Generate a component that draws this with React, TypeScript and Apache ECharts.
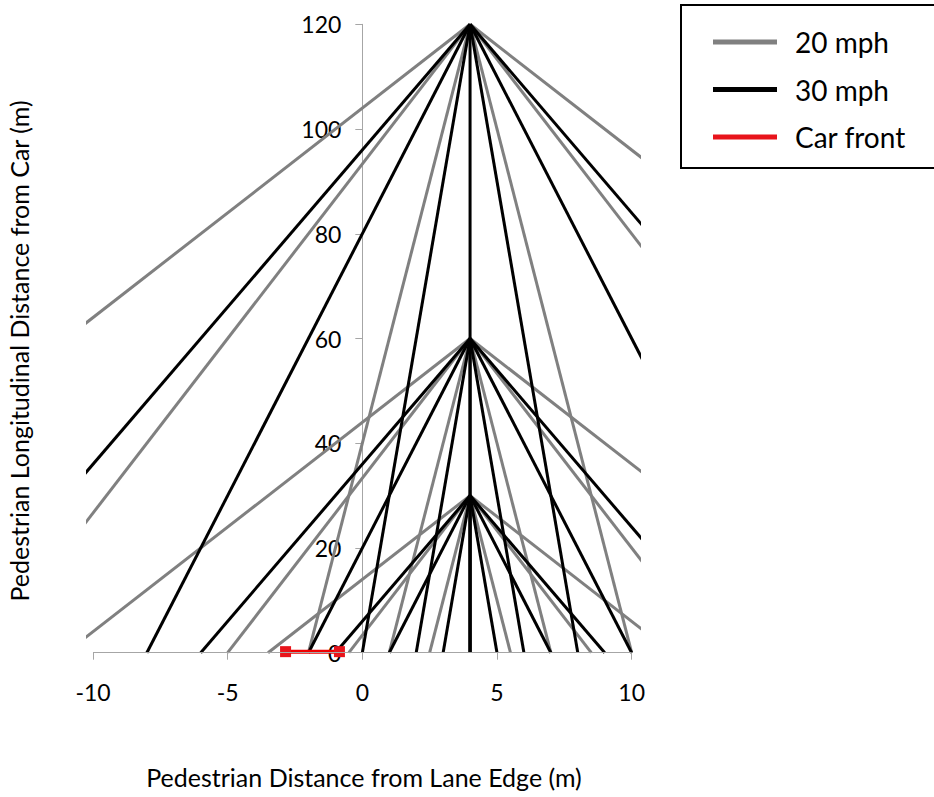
import React, { useEffect, useRef } from "react";
import * as echarts from "echarts";

// ---- data ----
const apexX = 4; // pedestrian lateral start position (m)
const startDistances = [120, 60, 30]; // pedestrian longitudinal start (m)

// x position (m) where each 20 mph trajectory reaches the car front line (y = 0)
const mph20EndsAt120 = [-26, -14, -2, 10, 22, 34];
const mph20EndsAt60 = [-11, -5, 1, 7, 13, 19];
const mph20EndsAt30 = [-3.5, -0.5, 2.5, 5.5, 8.5, 11.5];

// x position (m) where each 30 mph trajectory reaches the car front line (y = 0)
const mph30EndsAt120 = [-16, -8, 0, 4, 8, 16, 24];
const mph30EndsAt60 = [-6, -2, 2, 4, 6, 10, 14];
const mph30EndsAt30 = [-1, 1, 3, 4, 5, 7, 9];

const carFrontX = [-2.85, -0.85];
const carFrontY = [0.2, 0.2];

const xTickValues = [-10, -5, 0, 5, 10];
const legendNames = ["20 mph", "30 mph", "Car front"];

const X_MIN = -10.2;
const X_MAX = 10.25;

const GRAY = "#808080";
const BLACK = "#000000";
const RED = "#f00000";
const AXIS = "#a6a6a6";
const FONT = "Lato";

const GRID_LEFT = 87.6;
const GRID_RIGHT = 295.6;
const WIDTH = 934;

export default function App() {
  const ref = useRef<HTMLDivElement>(null);

  useEffect(() => {
    if (!ref.current) return;
    const chart = echarts.init(ref.current, null, { renderer: "svg" });

    const spokes = (name: string, color: string, y0: number, ends: number[], z: number) =>
      ends.map((e) => ({
        name,
        type: "line",
        data: [
          [apexX, y0],
          [e, 0],
        ],
        symbol: "none",
        clip: true,
        z,
        lineStyle: { color, width: 3, cap: "butt" },
        itemStyle: { color },
      }));

    const ends20 = [mph20EndsAt120, mph20EndsAt60, mph20EndsAt30];
    const ends30 = [mph30EndsAt120, mph30EndsAt60, mph30EndsAt30];

    const series: any[] = [];
    series.push({
      name: "axisline",
      type: "line",
      data: [],
      silent: true,
      z: 1,
      markLine: {
        silent: true,
        symbol: "none",
        label: { show: false },
        lineStyle: { color: AXIS, width: 1, type: "solid" },
        data: [[{ coord: [xTickValues[0], 0] }, { coord: [xTickValues[xTickValues.length - 1], 0] }]],
      },
    });
    startDistances.forEach((d, i) => series.push(...spokes("20 mph", GRAY, d, ends20[i], 2)));
    startDistances.forEach((d, i) => series.push(...spokes("30 mph", BLACK, d, ends30[i], 3)));
    series.push({
      name: "Car front",
      type: "line",
      data: carFrontX.map((x, i) => [x, carFrontY[i]]),
      symbol: "rect",
      symbolSize: 11,
      clip: false,
      z: 4,
      lineStyle: { color: RED, width: 4 },
      itemStyle: { color: "#e8141b" },
    });

    // y axis crosses the x axis at x = 0
    const pxPerUnit = (WIDTH - GRID_LEFT - GRID_RIGHT) / (X_MAX - X_MIN);
    const yAxisOffset = -(0 - X_MIN) * pxPerUnit;

    chart.setOption({
      animation: false,
      backgroundColor: "#ffffff",
      grid: {
        left: GRID_LEFT,
        right: GRID_RIGHT,
        top: 24.3,
        bottom: 144.3,
        containLabel: false,
        outerBoundsMode: "none",
      },
      xAxis: {
        type: "value",
        min: X_MIN,
        max: X_MAX,
        splitLine: { show: false },
        axisLine: { show: false },
        axisTick: {
          show: true,
          length: 7,
          customValues: xTickValues,
          lineStyle: { color: AXIS, width: 1 },
        },
        axisLabel: {
          customValues: xTickValues,
          margin: 28,
          color: "#000",
          fontSize: 23,
          fontFamily: FONT,
        },
      },
      yAxis: {
        type: "value",
        min: 0,
        max: 120,
        interval: 20,
        position: "left",
        offset: yAxisOffset,
        splitLine: { show: false },
        axisLine: { show: true, onZero: false, lineStyle: { color: AXIS, width: 1 } },
        axisTick: { show: true, length: 7, lineStyle: { color: AXIS, width: 1 } },
        axisLabel: { margin: 21, color: "#000", fontSize: 23, fontFamily: FONT },
      },
      legend: {
        data: legendNames,
        orient: "vertical",
        left: 713,
        top: 28,
        padding: 0,
        itemGap: 19.5,
        itemWidth: 64,
        itemHeight: 5,
        icon: "rect",
        selectedMode: false,
        textStyle: { fontSize: 28, fontFamily: FONT, color: "#000", padding: [0, 0, 0, 13] },
      },
      graphic: [
        {
          type: "rect",
          shape: { x: 681, y: 5, width: 270, height: 163 },
          style: { fill: "none", stroke: "#000", lineWidth: 2 },
          z: 10,
        },
        {
          type: "text",
          x: 364,
          y: 777,
          style: {
            text: "Pedestrian Distance from Lane Edge (m)",
            font: `25px ${FONT}`,
            fill: "#000",
            align: "center",
            verticalAlign: "middle",
          },
        },
        {
          type: "text",
          x: 19,
          y: 351,
          rotation: Math.PI / 2,
          style: {
            text: "Pedestrian Longitudinal Distance from Car (m)",
            font: `25px ${FONT}`,
            fill: "#000",
            align: "center",
            verticalAlign: "middle",
          },
        },
      ],
      series,
    });

    return () => chart.dispose();
  }, []);

  return (
    <div
      ref={ref}
      style={{ position: "absolute", left: 0, top: 0, width: 934, height: 797 }}
    />
  );
}
